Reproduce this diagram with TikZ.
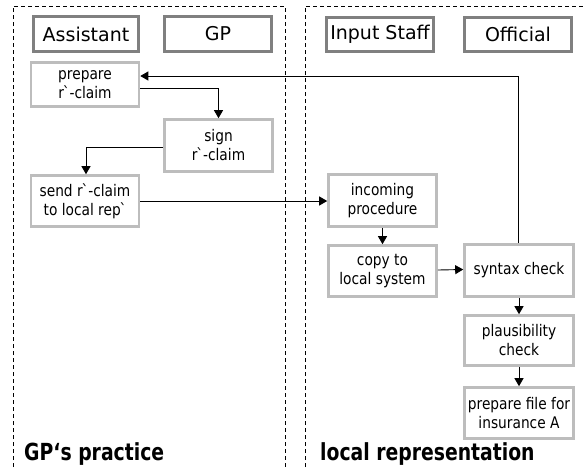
\documentclass[tikz,border=0pt]{standalone}
\usepackage{fontspec}
\setmainfont{DejaVu Sans}
\newfontfamily\boxfont[FakeStretch=0.86]{DejaVu Sans}
\newfontfamily\titlefont[FakeStretch=0.8]{DejaVu Sans Bold}
\usetikzlibrary{arrows.meta}
\definecolor{rolegray}{HTML}{808080}
\definecolor{procgray}{HTML}{BDBDBD}
\newcommand{\grv}{\kern-1.2pt\textasciigrave\kern-1.2pt}
\begin{document}
\begin{tikzpicture}[x=1pt,y=-1pt,
  lane/.style={line width=0.9pt,dash pattern=on 4pt off 3pt},
  role/.style={draw=rolegray,line width=2.6pt,fill=white,inner sep=0pt,
    minimum width=106pt,minimum height=35pt,font=\fontsize{19}{22}\selectfont},
  proc/.style={draw=procgray,line width=2.6pt,fill=white,inner sep=0pt,align=center,
    minimum width=108pt,font=\boxfont\fontsize{16}{19}\selectfont},
  flow/.style={line width=0.9pt,-{Triangle[length=8pt,width=9pt]}},
  title/.style={anchor=base west,inner sep=0pt,font=\titlefont\fontsize{23.5}{26}\selectfont}]
\useasboundingbox (0,0) rectangle (585,467);
% swimlanes
\draw[lane] (13,467) -- (13,6) -- (285,6) -- (285,467);
\draw[lane] (305,467) -- (305,6) -- (585,6);
% roles
\node[role,minimum width=105pt] (assistant) at (86,34) {Assistant};
\node[role,minimum width=107pt] (gp) at (218,34) {GP};
\node[role,minimum width=107pt,minimum height=34pt] (input) at (380,34.5) {Input Staff};
\node[role,minimum width=107pt,minimum height=34pt] (official) at (518,34.5) {Official};
% process steps
\node[proc,minimum height=44pt] (prepare) at (85,84.5) {prepare\\r\grv-claim};
\node[proc,minimum height=52pt] (sign) at (218.5,145.5) {sign\\r\grv-claim};
\node[proc,minimum height=51pt] (send) at (85,201) {send r\grv-claim\\to local rep\grv};
\node[proc,minimum height=52pt] (incoming) at (382.5,200.5) {incoming\\procedure};
\node[proc,minimum height=51pt] (copy) at (382.5,271) {copy to\\local system};
\node[proc,minimum width=109pt,minimum height=52pt] (syntax) at (519,270.5) {syntax check};
\node[proc,minimum width=109pt,minimum height=50pt] (plaus) at (519,340.5) {plausibility\\check};
\node[proc,minimum width=109pt,minimum height=51pt] (prepfile) at (519,413) {prepare file for\\insurance A};
% titles
\node[title] (gptitle) at (24,460) {GP‘s practice};
\node[title] (loctitle) at (320,460) {local representation};
% connectors
\coordinate (fbcorner) at (518,76);
\draw[flow] ([xshift=-1pt]syntax.north) |- (fbcorner -| prepare.east);
\coordinate (p2s) at (218,88);
\draw[flow] (prepare.east |- p2s) -| (sign.north);
\coordinate (s2s) at (86,147);
\draw[flow] (sign.west |- s2s) -| ([xshift=1pt]send.north);
\draw[flow] (send.east) -- (incoming.west |- send.east);
\draw[flow] (incoming.south) -- (copy.north);
\draw[flow] ([yshift=1pt]copy.east) -- ([yshift=1pt]syntax.west);
\draw[flow] (syntax.south) -- (plaus.north);
\draw[flow] (plaus.south) -- (prepfile.north);
\end{tikzpicture}
\end{document}
